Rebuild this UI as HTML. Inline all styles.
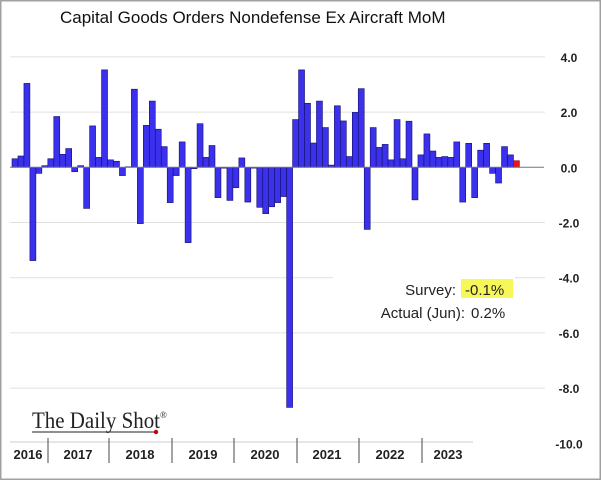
<!DOCTYPE html>
<html><head><meta charset="utf-8"><style>
body{margin:0;background:#fff;}
svg{display:block;font-family:"Liberation Sans",sans-serif;}
</style></head><body>
<svg id="chart" width="601" height="480" viewBox="0 0 601 480">
<rect x="0.5" y="0.5" width="600" height="479" fill="#fff" stroke="#a0a0a0" stroke-width="2"/>
<text x="60" y="23" font-size="17" fill="#111">Capital Goods Orders Nondefense Ex Aircraft MoM</text>
<g id="grid"></g>
<g id="bars"></g>
<g id="ylabels"></g>
<rect x="333" y="266" width="182" height="40" fill="#fff"/>
<rect x="461" y="279" width="52" height="19" fill="#f7f75a"/>
<text x="456" y="295" font-size="15" text-anchor="end" fill="#222">Survey:</text>
<text x="465" y="295" font-size="15" fill="#222">-0.1%</text>
<text x="465" y="318" font-size="15" text-anchor="end" fill="#222">Actual (Jun):</text>
<text x="471" y="318" font-size="15" fill="#222">0.2%</text>
<g>
<text x="32" y="428" font-size="23" font-family="Liberation Serif,serif" fill="#222" textLength="128" lengthAdjust="spacingAndGlyphs">The Daily Shot</text>
<text x="160" y="418" font-size="9" font-family="Liberation Serif,serif" fill="#222">®</text>
<line x1="32" y1="432" x2="155" y2="432" stroke="#222" stroke-width="1"/>
<circle cx="156" cy="432" r="2.2" fill="#c00"/>
</g>
<g id="xaxis"></g>
</svg>
<script>
const values = [0.31,0.41,3.04,-3.38,-0.22,0.06,0.31,1.84,0.47,0.68,-0.16,0.06,-1.49,1.50,0.36,3.53,0.27,0.22,-0.30,0.02,2.83,-2.04,1.52,2.40,1.38,0.75,-1.28,-0.30,0.92,-2.73,-0.05,1.58,0.36,0.79,-1.10,-0.03,-1.20,-0.74,0.34,-1.26,-0.03,-1.45,-1.68,-1.43,-1.28,-1.06,-8.7,1.73,3.53,2.32,0.88,2.40,1.44,0.08,2.23,1.68,0.39,1.99,2.85,-2.25,1.44,0.72,0.83,0.27,1.73,0.31,1.67,-1.18,0.45,1.21,0.59,0.36,0.39,0.36,0.92,-1.26,0.87,-1.10,0.62,0.87,-0.22,-0.57,0.75,0.45,0.24];
const yTicks = [4,2,0,-2,-4,-6,-8,-10];
const yTickLabels = ["4.0","2.0","0.0","-2.0","-4.0","-6.0","-8.0","-10.0"];
const years = ["2016","2017","2018","2019","2020","2021","2022","2023"];

const NS="http://www.w3.org/2000/svg";
const y0=167.3, ppu=27.6;
const yScale=v=>y0-v*ppu;
const barX0=12, barStep=5.97;
const xScale=i=>barX0+i*barStep;
function mk(tag,attrs,parent){const e=document.createElementNS(NS,tag);for(const k in attrs)e.setAttribute(k,attrs[k]);parent.appendChild(e);return e;}
const grid=document.getElementById('grid'), bars=document.getElementById('bars'), yl=document.getElementById('ylabels'), xa=document.getElementById('xaxis');
yTicks.forEach((t,i)=>{
  const y=yScale(t);
  if(t!==0 && t!==-10){
    const l=mk('line',{x1:10,x2:545,y1:y,y2:y,stroke:'#e0e0e0','stroke-width':1},grid);
    
    
  }
  const tx=mk('text',{x:569,y:y+5,'font-size':12,'font-weight':'bold','text-anchor':'middle',fill:'#222'},yl);
  tx.textContent=yTickLabels[i];
  
  
});
values.forEach((v,i)=>{
  const last=i===values.length-1;
  const y=Math.min(yScale(v),y0), h=Math.abs(yScale(v)-y0);
  const r=mk('rect',{x:xScale(i),y:y,width:barStep,height:h,fill:last?'#e8141c':'#3b30ec',stroke:last?'#a01010':'#14106a','stroke-width':0.6},bars);
  
  
});
const zl=mk('line',{x1:10,x2:544,y1:y0,y2:y0,stroke:'#777','stroke-width':1},bars);


const ax=mk('line',{x1:10,x2:473,y1:442,y2:442,stroke:'#ccc','stroke-width':1},xa);


const seps=[48,109,172,234,297,359,422];
const centers=[28,78,140,203,265,327,390,448];
seps.forEach(x=>{
  const s=mk('line',{x1:x,x2:x,y1:438,y2:463,stroke:'#666','stroke-width':1.2},xa);
  
  
});
years.forEach((yr,i)=>{
  const t=mk('text',{x:centers[i],y:459,'font-size':13,'font-weight':'bold','text-anchor':'middle',fill:'#222'},xa);
  t.textContent=yr;
  
  
});
</script>
</body></html>
